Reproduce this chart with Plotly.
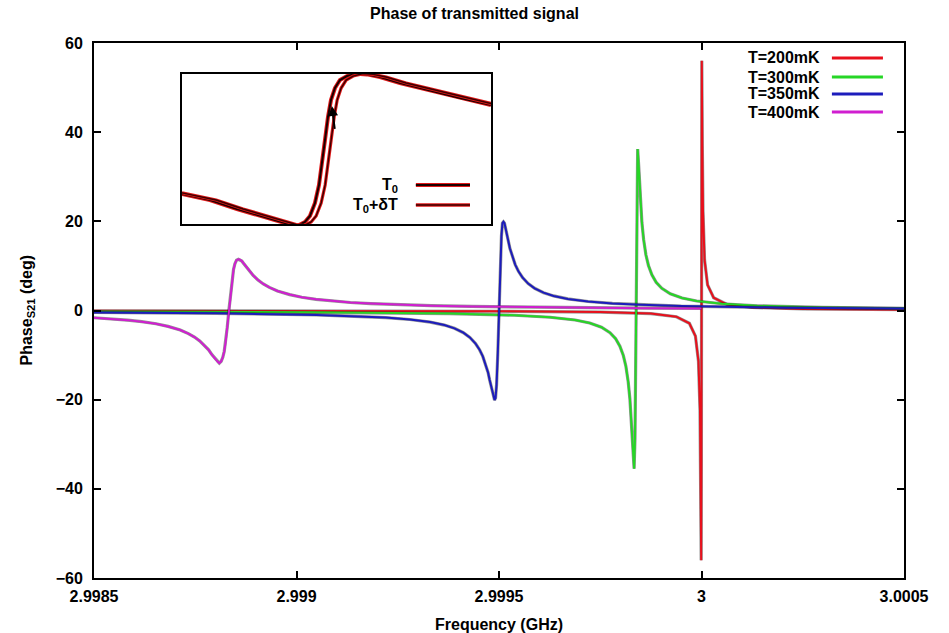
import plotly.graph_objects as go

# ---- data ---------------------------------------------------------------
# legend labels and line colours for each bath temperature
labels = ["T=200mK", "T=300mK", "T=350mK", "T=400mK"]
colors = ["#e8101c", "#26d626", "#1c1cbc", "#d01ed0"]

# resonance centre frequency of each curve (GHz)
centres_ghz = [3.0, 2.999838, 2.9995, 2.998833]

# detuning from the centre (kHz) and transmitted phase (deg), per curve
det_200 = [-1500, -1000, -500, -250, -125, -62, -30, -15, -7.5, -3.7, -2.0, -0.77, -0.25, 0,
           0.25, 0.77, 2.0, 3.7, 7.5, 15, 30, 62, 125, 250, 500]
phase_200 = [-0.06, -0.09, -0.17, -0.35, -0.69, -1.39, -2.87, -5.74, -11.4, -22.3, -37.5, -56.0, -32.9, 0,
             32.9, 56.0, 37.5, 22.3, 11.4, 5.74, 2.87, 1.39, 0.69, 0.35, 0.17]

det_300 = [-1338, -800, -460, -300, -212, -150, -114, -85, -64, -50, -39.5, -31, -24.7, -19, -14.8,
           -11.8, -9.9, -7.4, -4.4, -2.2, 0, 2.2, 4.4, 7.4, 9.9, 11.8, 14.8, 19, 24.7, 31, 39.5,
           50, 64, 85, 114, 150, 212, 300, 460, 662]
phase_300 = [-0.24, -0.40, -0.69, -1.07, -1.51, -2.13, -2.80, -3.76, -4.97, -6.33, -8.0, -10.1, -12.5,
             -16.0, -19.8, -23.9, -26.9, -31.7, -35.5, -28.6, 0, 28.8, 36.2, 31.7, 26.9, 23.9, 19.8,
             16.0, 12.5, 10.1, 8.0, 6.33, 4.97, 3.76, 2.80, 2.13, 1.51, 1.07, 0.69, 0.48]

det_350 = [-1000, -700, -450, -350, -280, -220, -170, -135, -110, -88, -72, -58, -48, -40, -33, -27,
           -23, -19, -16, -13.5, -11, -8.5, -6, -3, 0, 3, 6, 8.5, 11, 13.5, 16, 19, 23, 27, 33, 40,
           48, 58, 72, 88, 110, 135, 170, 220, 280, 350, 450, 700, 1000]
phase_350 = [-0.44, -0.63, -0.99, -1.27, -1.59, -2.02, -2.60, -3.27, -4.00, -4.98, -6.03, -7.41, -8.79,
             -10.3, -12.0, -13.9, -15.6, -17.3, -18.7, -19.6, -20.1, -19.6, -16.7, -9.7, 0, 9.7, 16.7,
             19.6, 19.9, 19.6, 18.7, 17.3, 15.6, 13.9, 12.0, 10.3, 8.79, 7.41, 6.03, 4.98, 4.00, 3.27,
             2.60, 2.02, 1.59, 1.27, 0.99, 0.63, 0.44]

det_400 = [-333, -290, -250, -215, -180, -150, -120, -100, -85, -72, -60, -50, -42, -36, -32, -27.5,
           -23.5, -19, -15, -11.5, -8, -4, 0, 4, 8, 11.5, 15, 19, 23.5, 27.5, 32, 36, 42, 50, 60, 72,
           85, 100, 120, 150, 180, 215, 250, 300, 350, 420, 500, 600, 700, 800, 900, 1030, 1167]
phase_400 = [-1.63, -1.87, -2.16, -2.51, -2.98, -3.57, -4.37, -5.19, -5.95, -6.82, -7.87, -8.83, -9.9,
             -10.6, -11.1, -11.5, -11.8, -11.4, -10.5, -9.2, -7.08, -3.8, 0, 3.8, 7.08, 9.2, 10.5, 11.3,
             11.5, 11.4, 11.1, 10.6, 9.9, 8.83, 7.87, 6.82, 5.95, 5.19, 4.37, 3.57, 2.98, 2.51, 2.16,
             1.80, 1.55, 1.30, 1.09, 0.91, 0.78, 0.68, 0.61, 0.53, 0.47]

detunings = [det_200, det_300, det_350, det_400]
phases = [phase_200, phase_300, phase_350, phase_400]

# axis ticks
x_tickvals = [2.9985, 2.999, 2.9995, 3.0, 3.0005]
x_ticktext = ["2.9985", "2.999", "2.9995", "3", "3.0005"]
y_tickvals = [-60, -40, -20, 0, 20, 40, 60]

# inset: close-up of one resonance at T0 and T0+dT (normalised units)
inset_x_t0 = [0.0, 0.0906, 0.178, 0.2524, 0.3172, 0.3495, 0.3754, 0.398, 0.4142, 0.4304, 0.4434,
              0.4531, 0.4628, 0.4725, 0.4822, 0.4951, 0.5113, 0.534, 0.5663, 0.5987, 0.6408,
              0.7055, 0.7702, 0.835, 0.8997, 1.0]
inset_y_t0 = [-0.60, -0.68, -0.80, -0.893, -0.973, -1.007, -1.02, -0.973, -0.893, -0.72, -0.48,
              -0.213, 0.12, 0.427, 0.653, 0.813, 0.92, 0.973, 1.005, 0.995, 0.96,
              0.88, 0.813, 0.747, 0.68, 0.587]
inset_x_t1 = [0.0, 0.1106, 0.198, 0.2724, 0.3372, 0.3695, 0.3954, 0.418, 0.4342, 0.4504, 0.4634,
              0.4731, 0.4828, 0.4925, 0.5022, 0.5151, 0.5313, 0.554, 0.5863, 0.6187, 0.6608,
              0.7255, 0.7902, 0.855, 0.9197, 1.02]
inset_y_t1 = [-0.585, -0.68, -0.80, -0.893, -0.973, -1.007, -1.02, -0.973, -0.893, -0.72, -0.48,
              -0.213, 0.12, 0.427, 0.653, 0.813, 0.92, 0.973, 1.005, 0.995, 0.96,
              0.88, 0.813, 0.747, 0.68, 0.587]
inset_labels = ["T<sub>0</sub>", "T<sub>0</sub>+δT"]

FONT = "Liberation Sans, Arial, Helvetica, sans-serif"
TXT = dict(family=FONT, size=16, color="black", weight="bold")

fig = go.Figure()

# main curves: faint dark edge under a coloured stroke
for name, col, f0, det, ph in zip(labels, colors, centres_ghz, detunings, phases):
    xs = [f0 + d * 1e-6 for d in det]
    fig.add_trace(go.Scatter(x=xs, y=ph, mode="lines", line=dict(color="rgba(20,20,20,0.45)", width=3.2),
                             hoverinfo="skip", showlegend=False))
    fig.add_trace(go.Scatter(x=xs, y=ph, mode="lines", line=dict(color=col, width=2),
                             name=name, showlegend=False))

# inset curves
fig.add_trace(go.Scatter(x=inset_x_t0, y=inset_y_t0, xaxis="x2", yaxis="y2", mode="lines",
                         line=dict(color="#e01818", width=4), showlegend=False, hoverinfo="skip"))
fig.add_trace(go.Scatter(x=inset_x_t0, y=inset_y_t0, xaxis="x2", yaxis="y2", mode="lines",
                         line=dict(color="#1a0000", width=2), showlegend=False))
fig.add_trace(go.Scatter(x=inset_x_t1, y=inset_y_t1, xaxis="x2", yaxis="y2", mode="lines",
                         line=dict(color="#e01818", width=3.2), showlegend=False, hoverinfo="skip"))
fig.add_trace(go.Scatter(x=inset_x_t1, y=inset_y_t1, xaxis="x2", yaxis="y2", mode="lines",
                         line=dict(color="#3a0000", width=1.4), showlegend=False))

axis_common = dict(showline=True, linecolor="black", linewidth=2, mirror="ticks",
                   ticks="inside", ticklen=7, tickwidth=1.5, tickcolor="black",
                   showgrid=False, zeroline=False, tickfont=TXT)

fig.update_layout(
    width=949, height=633,
    margin=dict(l=94, r=45, t=43, b=55),
    paper_bgcolor="white", plot_bgcolor="white",
    title=dict(text="Phase of transmitted signal", x=0.5, xanchor="center",
               y=1 - 13 / 633, yanchor="middle", font=TXT),
    xaxis=dict(range=[2.9985, 3.0005], tickvals=x_tickvals, ticktext=x_ticktext,
               ticklabelstandoff=3, **axis_common),
    yaxis=dict(range=[-60, 60], tickvals=y_tickvals, ticklabelstandoff=6, **axis_common),
    xaxis2=dict(domain=[0.1086, 0.4901], anchor="y2", range=[0, 1], showline=True, mirror=True,
                linecolor="black", linewidth=2, showticklabels=False, ticks="",
                showgrid=False, zeroline=False),
    yaxis2=dict(domain=[0.6617, 0.942], anchor="x2", range=[-1, 1], showline=True, mirror=True,
                linecolor="black", linewidth=2, showticklabels=False, ticks="",
                showgrid=False, zeroline=False),
    showlegend=False,
)

# axis titles
fig.add_annotation(text="Frequency (GHz)", x=0.5, y=-0.086, xref="paper", yref="paper",
                   xanchor="center", yanchor="middle", showarrow=False, font=TXT)
fig.add_annotation(text="Phase<sub>S21</sub> (deg)", x=-0.0827, y=0.5, xref="paper", yref="paper",
                   xanchor="center", yanchor="middle", textangle=-90, showarrow=False, font=TXT)

# key in the upper-right corner: label then line sample
row_y = [0.972, 0.9364, 0.9047, 0.871]
for name, col, ry in zip(labels, colors, row_y):
    fig.add_annotation(text=name, x=0.8988, y=ry, xref="paper", yref="paper",
                       xanchor="right", yanchor="middle", showarrow=False, font=TXT)
    fig.add_shape(type="line", x0=0.911, x1=0.974, y0=ry, y1=ry, xref="paper", yref="paper",
                  line=dict(color=col, width=3), layer="above")

# inset key
inset_key_y = [-0.48, -0.747]
inset_key_style = [("#1a0000", 2), ("#3a0000", 1.4)]
for lab, ky, (core, cw) in zip(inset_labels, inset_key_y, inset_key_style):
    fig.add_annotation(text=lab, x=0.7055, y=ky, xref="x2", yref="y2",
                       xanchor="right", yanchor="middle", showarrow=False, font=TXT)
    fig.add_shape(type="line", x0=0.757, x1=0.932, y0=ky, y1=ky, xref="x2", yref="y2",
                  line=dict(color="#e01818", width=cw + 2), layer="above")
    fig.add_shape(type="line", x0=0.757, x1=0.932, y0=ky, y1=ky, xref="x2", yref="y2",
                  line=dict(color=core, width=cw), layer="above")

# arrow showing the direction of the shift
fig.add_annotation(x=0.485, y=0.573, ax=0.495, ay=0.25, xref="x2", yref="y2",
                   axref="x2", ayref="y2", showarrow=True, arrowhead=2, arrowsize=1,
                   arrowwidth=2, arrowcolor="black", text="")

fig.write_html("out.html")
